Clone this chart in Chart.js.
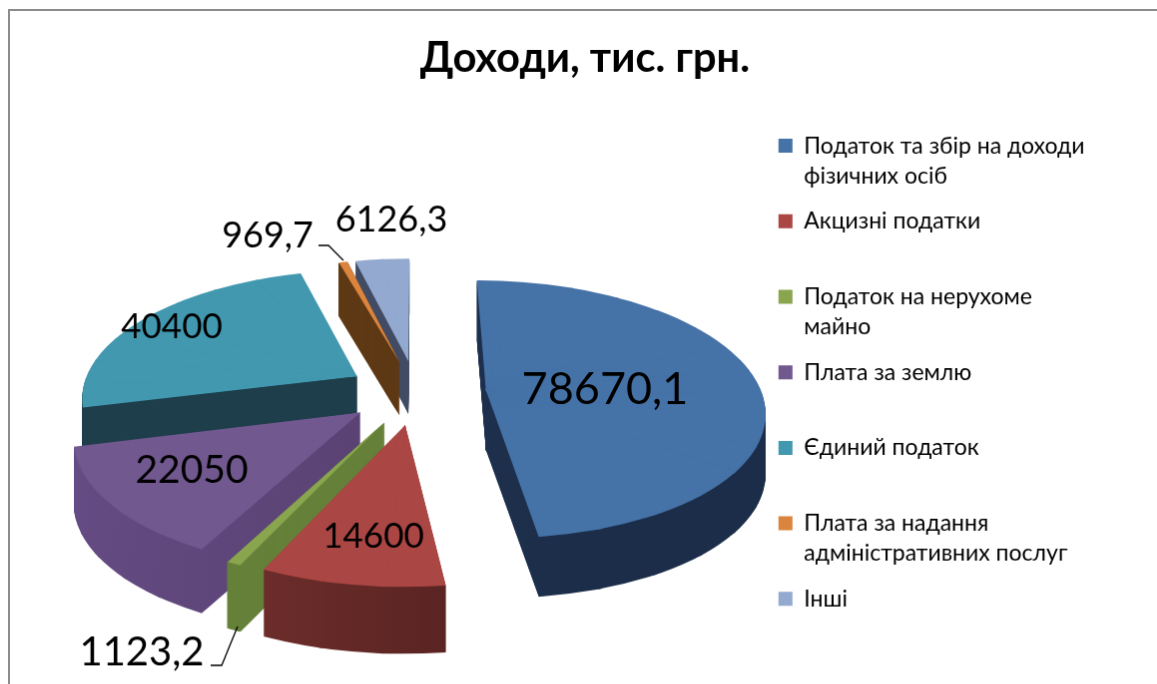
<!DOCTYPE html>
<html>
<head>
<meta charset="utf-8">
<title>Доходи, тис. грн.</title>
<script src="https://cdn.jsdelivr.net/npm/chart.js@4/dist/chart.umd.js"></script>
<style>
    html, body { margin: 0; height: 100%; background: #fff; overflow: hidden; }
    #income {
        position: absolute; left: 8px; top: 9px;
        border-left: 2px solid #8c8c8c; border-top: 2px solid #8c8c8c;
    }
</style>
</head>
<body>
<canvas id="income" width="1152" height="800"></canvas>
<script>
const categories = [
    ["Податок та збір на доходи", "фізичних осіб"],
    ["Акцизні податки", ""],
    ["Податок на нерухоме", "майно"],
    ["Плата за землю", ""],
    ["Єдиний податок", ""],
    ["Плата за надання", "адміністративних послуг"],
    ["Інші", ""],
];
const values = [78670.1, 14600, 1123.2, 22050, 40400, 969.7, 6126.3];

const topColors = ["#4572a7", "#aa4643", "#89a54e", "#71588f", "#4198af", "#db843d", "#93a9cf"];
const sideLeft = ["#26395a", "#7e3633", "#6b8239", "#654c84", "#1e3e4b", "#5f3a16", "#414c64"];
const sideRight = ["#1b2d48", "#552220", "#66803a", "#57406f", "#1e3e4b", "#5f3a16", "#414c64"];

// back to front
const drawOrder = [6, 5, 4, 0, 3, 2, 1];

// label placement, page pixels: centre x, baseline y, font size
const labelX = [606, 374, 142, 192, 172, 268, 392];
const labelY = [405, 549, 667, 484, 339, 248, 232];
const labelSize = [45, 35, 40, 39, 35, 36, 36];

const fontFamily = "Lato, 'Open Sans', sans-serif";
const pageX = 10, pageY = 11;

// fake camera for the tilted pie
const camX = 417 - pageX, camY = 393 - pageY;
const squash = 0.46, persp = 0.15, explode = 70, depth = 60;
const pieceAngle = Math.PI / 15;

function project(x, y, R) {
    const s = 1 / (1 - persp * y / R);
    return [camX + x * s, camY + y * squash * s];
}

// affine that puts one wedge of a slice where the camera would see it
function wedgeTransform(arc, a1, a2) {
    const R = arc.outerRadius;
    const mid = (arc.startAngle + arc.endAngle) / 2;
    const ex = Math.cos(mid) * explode, ey = Math.sin(mid) * explode;
    const U = [R * Math.cos(a1), R * Math.sin(a1)], V = [R * Math.cos(a2), R * Math.sin(a2)];
    const A = project(ex, ey, R);
    const P = project(ex + U[0], ey + U[1], R), Q = project(ex + V[0], ey + V[1], R);
    const u = [P[0] - A[0], P[1] - A[1]], v = [Q[0] - A[0], Q[1] - A[1]];
    const det = U[0] * V[1] - U[1] * V[0];
    const a = (u[0] * V[1] - v[0] * U[1]) / det, c = (v[0] * U[0] - u[0] * V[0]) / det;
    const b = (u[1] * V[1] - v[1] * U[1]) / det, d = (v[1] * U[0] - u[1] * V[0]) / det;
    return { a, b, c, d, e: A[0] - (a * arc.x + c * arc.y), f: A[1] - (b * arc.x + d * arc.y) };
}

function drawWedge(ctx, arc, t, a1, a2, dy, pad) {
    const m = (a1 + a2) / 2;
    ctx.save();
    ctx.transform(t.a, t.b, t.c, t.d, t.e, t.f + dy);
    ctx.beginPath();
    // apex pulled back a little so neighbouring wedges overlap and leave no seam
    ctx.moveTo(arc.x - Math.cos(m) * 8, arc.y - Math.sin(m) * 8);
    ctx.arc(arc.x, arc.y, arc.outerRadius * 1.1, a1 - pad, a2 + pad);
    ctx.closePath();
    ctx.clip();
    arc.draw(ctx);
    ctx.restore();
}

const pie3d = {
    id: "pie3d",
    beforeDatasetsDraw(chart) {
        const ctx = chart.ctx;
        const arcs = chart.getDatasetMeta(0).data;
        drawOrder.forEach((i) => {
            const arc = arcs[i];
            const R = arc.outerRadius;
            const base = arc.options;
            const span = arc.endAngle - arc.startAngle;
            const n = Math.ceil(span / pieceAngle);
            const mid = (arc.startAngle + arc.endAngle) / 2;
            const h = Math.round(depth * (1 + 0.45 * Math.sin(mid) * explode / R));
            const thin = span < 0.1;
            const grad = ctx.createLinearGradient(arc.x - R, 0, arc.x + R * 0.3, 0);
            grad.addColorStop(0, sideLeft[i]);
            grad.addColorStop(1, sideRight[i]);
            // very thin slices get a hairline so the wall stays solid up to the tip
            const side = {
                ...base,
                backgroundColor: grad,
                borderWidth: thin ? 1.5 : 0,
                borderColor: sideRight[i],
            };
            const top = { ...base, backgroundColor: topColors[i], borderWidth: 0 };
            const pad = thin ? 0.03 : 0.006;
            for (let j = 0; j < n; j++) {
                const a1 = arc.startAngle + span * j / n, a2 = arc.startAngle + span * (j + 1) / n;
                const t = wedgeTransform(arc, a1, a2);
                arc.options = side;
                for (let dy = h; dy > 0; dy--) drawWedge(ctx, arc, t, a1, a2, dy, pad);
            }
            for (let j = 0; j < n; j++) {
                const a1 = arc.startAngle + span * j / n, a2 = arc.startAngle + span * (j + 1) / n;
                arc.options = top;
                drawWedge(ctx, arc, wedgeTransform(arc, a1, a2), a1, a2, 0, pad);
            }
            arc.options = base;
        });
        return false;
    },
    afterDraw(chart) {
        const ctx = chart.ctx;
        ctx.save();
        ctx.translate(-pageX, -pageY);
        ctx.fillStyle = "#000";
        ctx.textAlign = "center";
        ctx.textBaseline = "alphabetic";
        values.forEach((v, i) => {
            ctx.font = labelSize[i] + "px " + fontFamily;
            ctx.fillText(String(v).replace(".", ","), labelX[i], labelY[i]);
        });
        // leader lines for the two thin slices
        ctx.strokeStyle = "#000";
        ctx.lineWidth = 1.3;
        ctx.beginPath();
        ctx.moveTo(319, 246);
        ctx.lineTo(329, 246);
        ctx.lineTo(344, 261);
        ctx.moveTo(211, 667);
        ctx.lineTo(222, 667);
        ctx.lineTo(238, 628);
        ctx.stroke();
        ctx.restore();
    },
};

new Chart(document.getElementById("income"), {
    type: "pie",
    plugins: [pie3d],
    data: {
        labels: categories,
        datasets: [{ data: values, backgroundColor: topColors, borderWidth: 0, radius: 276 }],
    },
    options: {
        responsive: false,
        animation: false,
        events: [],
        layout: { padding: { left: 65.5, right: 65.5 } },
        plugins: {
            tooltip: { enabled: false },
            title: {
                display: true,
                text: "Доходи, тис. грн.",
                color: "#000",
                font: { family: fontFamily, size: 41.6, weight: "bold" },
                padding: { top: 23, bottom: 35 },
            },
            legend: {
                position: "right",
                align: "start",
                fullSize: false,
                labels: {
                    boxWidth: 14,
                    boxHeight: 14,
                    padding: 15.7,
                    color: "#111",
                    font: { family: fontFamily, size: 23, lineHeight: 30 / 23 },
                    generateLabels: () => categories.map((text, i) => ({
                        text: text,
                        fillStyle: topColors[i],
                        strokeStyle: topColors[i],
                        lineWidth: 0,
                        index: i,
                    })),
                },
            },
        },
    },
});
</script>
</body>
</html>
